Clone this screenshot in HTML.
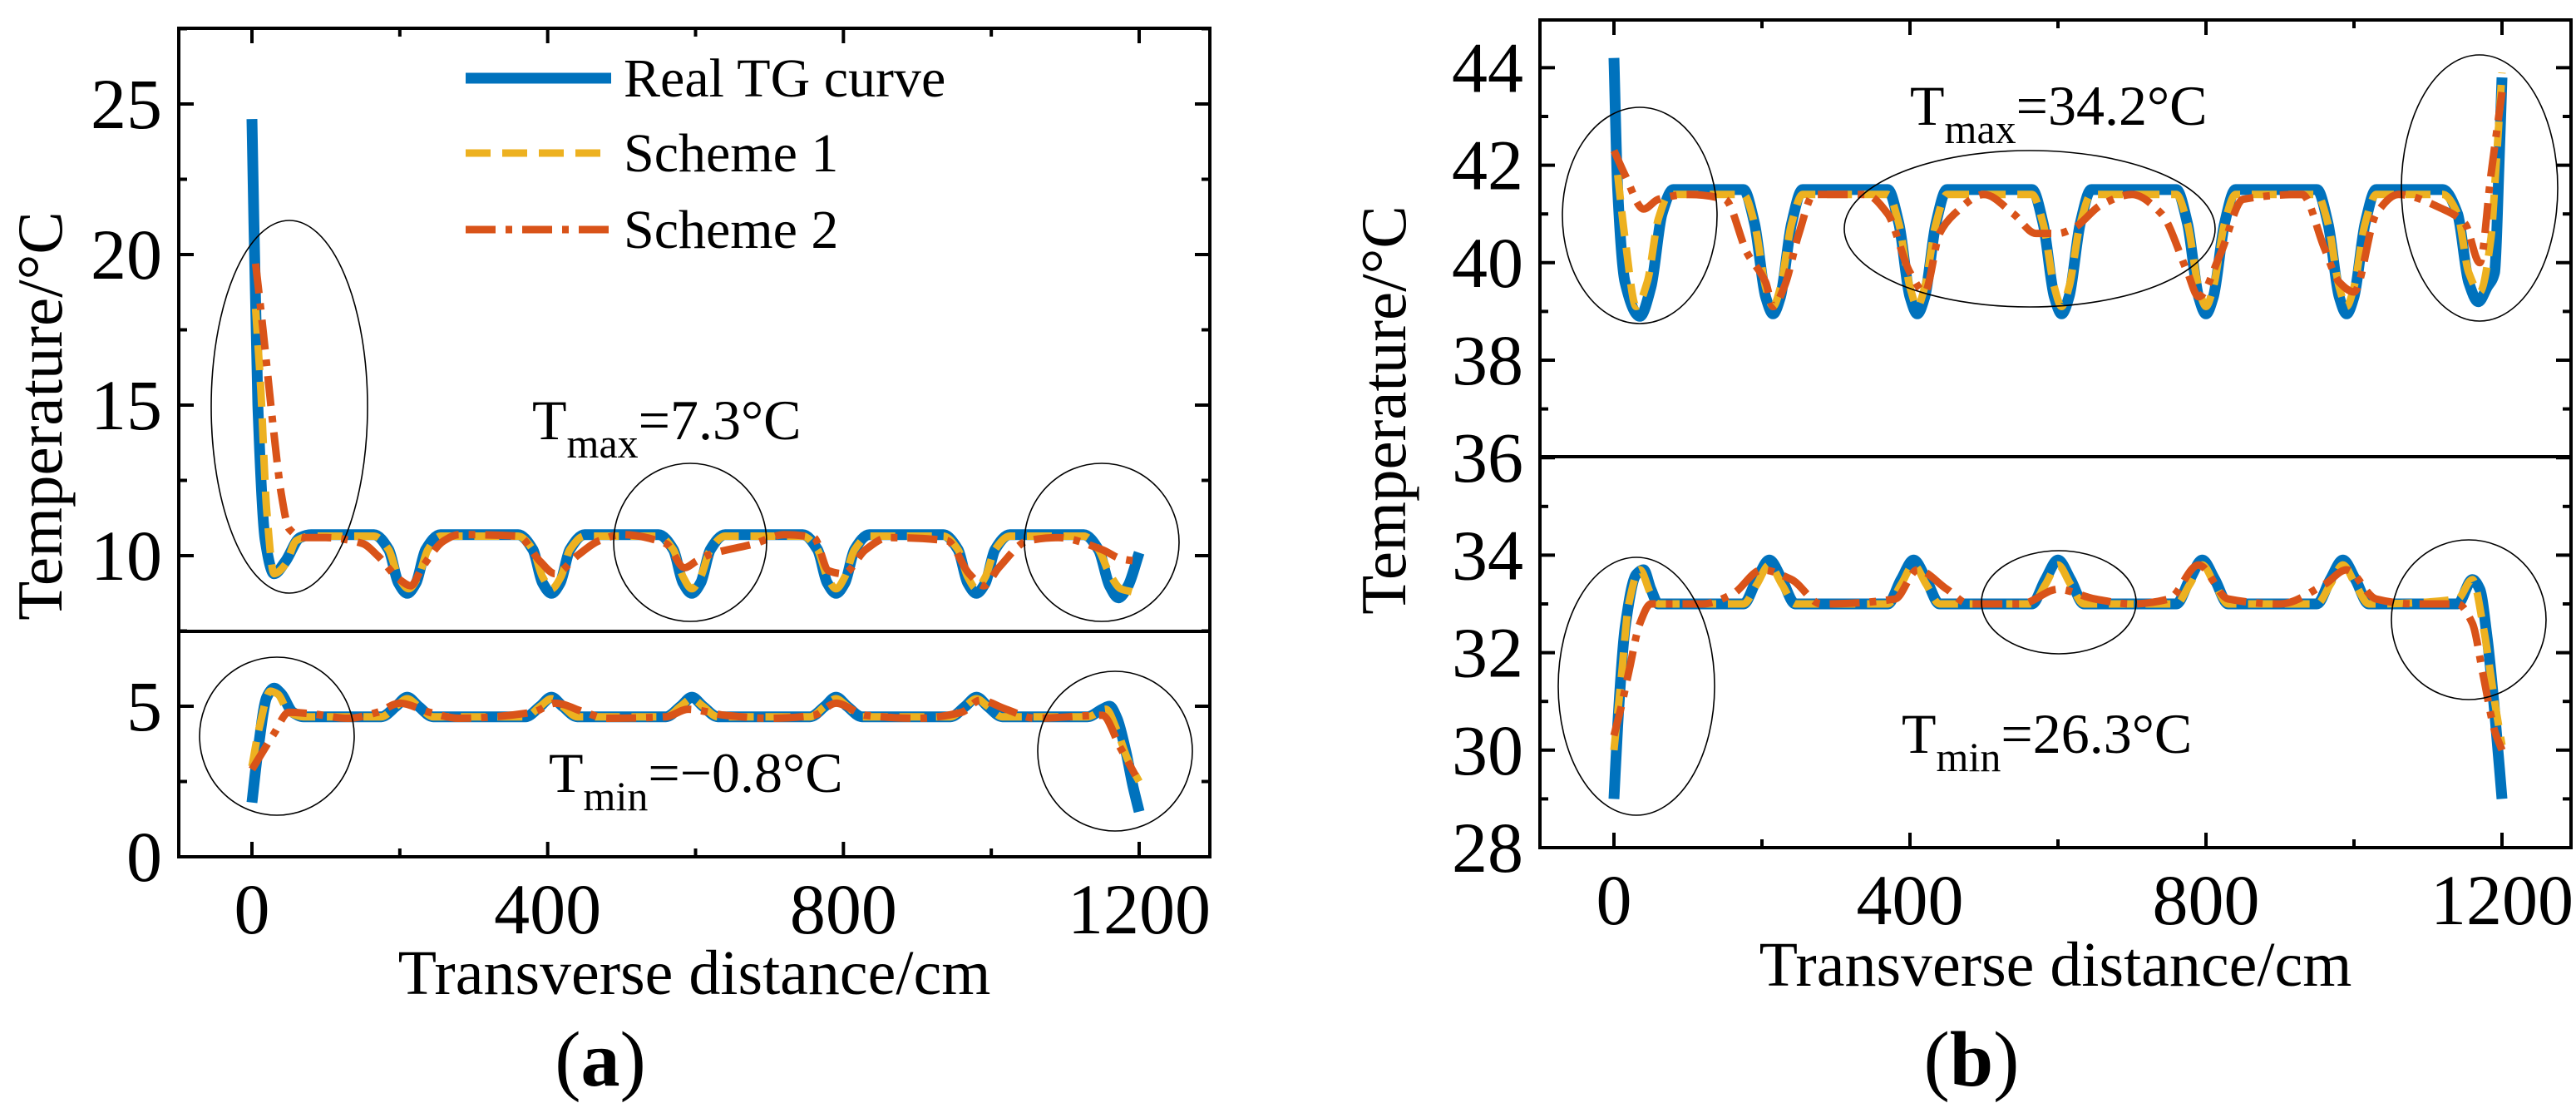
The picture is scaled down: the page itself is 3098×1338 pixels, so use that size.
<!DOCTYPE html>
<html><head><meta charset="utf-8">
<style>
html,body{margin:0;padding:0;background:#fff;}
svg{display:block;font-family:"Liberation Serif",serif;}
</style></head>
<body>
<svg id="chart" width="3098" height="1338" viewBox="0 0 3098 1338" xmlns="http://www.w3.org/2000/svg"></svg>
<script>
// ---------- data: panel (a) ----------
const aRealUpX = [0,8,18,30,45,65,80,165,185,198,210,222,235,255,360,380,393,405,417,430,450,550,570,583,595,607,620,640,745,765,778,790,802,815,835,935,955,968,980,992,1005,1025,1125,1145,1160,1172,1185,1200];
const aRealUpY = [24.5,15,10.5,9.4,9.8,10.6,10.7,10.7,10.2,9.1,8.75,9.1,10.2,10.7,10.7,10.2,9.1,8.75,9.1,10.2,10.7,10.7,10.2,9.1,8.75,9.1,10.2,10.7,10.7,10.2,9.1,8.75,9.1,10.2,10.7,10.7,10.2,9.1,8.75,9.1,10.2,10.7,10.7,10.2,9.0,8.6,9.0,10.1];
const aS1UpX = [5,12,20,30,45,60,80,165,185,198,212,225,238,255,360,380,393,405,418,430,450,550,570,583,595,607,620,640,745,765,778,790,802,815,835,935,955,968,980,992,1005,1025,1125,1145,1160,1175,1190];
const aS1UpY = [18.2,15.5,11.5,9.4,9.7,10.5,10.65,10.65,10.2,9.3,8.9,9.3,10.2,10.65,10.65,10.2,9.3,8.9,9.3,10.2,10.65,10.65,10.2,9.3,8.9,9.3,10.2,10.65,10.65,10.2,9.3,8.9,9.3,10.2,10.65,10.65,10.2,9.3,8.9,9.3,10.2,10.65,10.65,10.2,9.4,8.9,8.8];
const aS2UpX = [5,15,30,40,50,70,100,150,170,200,215,230,260,280,360,390,410,440,470,500,560,585,600,615,680,720,760,780,800,830,860,940,970,990,1010,1050,1090,1150,1175,1200];
const aS2UpY = [19.7,17.5,14,12,10.9,10.6,10.6,10.4,10.0,9.2,9.0,9.6,10.5,10.7,10.65,9.8,9.4,10.0,10.5,10.7,10.4,9.6,9.8,10.0,10.4,10.7,10.6,9.5,9.4,10.2,10.6,10.5,9.4,9.0,9.6,10.5,10.6,10.2,9.9,9.8];
const aRealLoX = [0,8,20,30,40,55,70,175,195,210,225,245,370,390,405,420,440,560,580,595,610,630,755,775,790,805,825,945,965,980,995,1015,1130,1150,1160,1170,1182,1192,1200];
const aRealLoY = [1.8,3.5,5.3,5.6,5.4,4.8,4.65,4.65,5.0,5.3,5.0,4.65,4.65,5.0,5.3,5.0,4.65,4.65,5.0,5.3,5.0,4.65,4.65,5.0,5.3,5.0,4.65,4.65,5.0,5.3,5.0,4.65,4.65,4.9,5.0,4.6,3.5,2.3,1.5];
const aS1LoX = [0,10,25,35,50,70,175,195,210,225,245,370,390,405,420,440,560,580,595,610,630,755,775,790,805,825,945,965,980,995,1015,1130,1155,1170,1185,1200];
const aS1LoY = [3.0,4.3,5.5,5.4,4.8,4.65,4.65,5.0,5.25,5.0,4.65,4.65,5.0,5.25,5.0,4.65,4.65,5.0,5.25,5.0,4.65,4.65,5.0,5.25,5.0,4.65,4.65,5.0,5.25,5.0,4.65,4.65,4.9,4.2,3.2,2.5];
const aS2LoX = [0,15,30,50,80,130,170,200,240,280,380,410,450,480,560,590,640,700,760,790,830,900,960,985,1020,1060,1150,1175,1195];
const aS2LoY = [2.9,3.5,4.1,4.8,4.75,4.6,4.8,5.1,4.8,4.6,4.8,5.1,4.8,4.6,4.65,4.9,4.7,4.6,4.7,5.1,4.7,4.6,4.8,5.2,4.9,4.6,4.7,3.6,2.7];
const aYTicks = [0,5,10,15,20,25];
// ---------- data: panel (b) ----------
const bRealUpX = [0,5,15,35,50,65,80,175,190,205,215,225,240,255,370,385,400,410,420,435,450,565,580,595,605,615,630,645,760,775,790,800,810,825,840,950,965,980,990,1000,1015,1030,1120,1140,1155,1168,1180,1190,1196,1200];
const bRealUpY = [44.2,41.5,39.6,38.9,39.5,41.0,41.5,41.5,40.8,39.3,38.95,39.3,40.8,41.5,41.5,40.8,39.3,38.95,39.3,40.8,41.5,41.5,40.8,39.3,38.95,39.3,40.8,41.5,41.5,40.8,39.3,38.95,39.3,40.8,41.5,41.5,40.8,39.3,38.95,39.3,40.8,41.5,41.5,41.0,39.6,39.2,39.5,39.8,42.0,43.8];
const bS1UpX = [5,15,30,45,60,75,175,190,205,215,225,240,255,370,385,400,410,420,435,450,565,580,595,605,615,630,645,760,775,790,800,810,825,840,950,965,980,990,1000,1015,1030,1120,1140,1155,1170,1185,1192,1200];
const bS1UpY = [41.8,40.5,39.1,39.6,40.9,41.4,41.4,40.8,39.5,39.1,39.5,40.8,41.4,41.4,40.8,39.5,39.1,39.5,40.8,41.4,41.4,40.8,39.5,39.1,39.5,40.8,41.4,41.4,40.8,39.5,39.1,39.5,40.8,41.4,41.4,40.8,39.5,39.1,39.5,40.8,41.4,41.4,41.0,39.8,39.4,40.5,42.0,43.9];
const bS2UpX = [0,15,40,60,100,150,180,205,215,230,250,270,340,370,400,420,440,460,500,540,570,600,620,660,700,740,775,790,820,850,930,960,980,1000,1030,1060,1120,1150,1170,1185,1200];
const bS2UpY = [42.3,41.8,41.1,41.3,41.4,41.3,40.2,39.6,39.1,39.5,40.6,41.4,41.4,41.0,39.8,39.4,40.6,41.0,41.4,41.0,40.6,40.6,40.7,41.2,41.4,41.0,39.8,39.3,40.2,41.3,41.4,40.3,39.6,39.4,41.0,41.4,41.1,40.8,40.0,41.8,43.5];
const bRealLoX = [0,5,15,30,40,50,60,175,193,210,227,245,370,388,405,422,440,565,583,600,617,635,760,778,795,812,830,950,968,985,1002,1020,1140,1160,1170,1180,1190,1200];
const bRealLoY = [29.0,30.5,32.5,33.6,33.7,33.3,33.0,33.0,33.5,33.9,33.5,33.0,33.0,33.5,33.9,33.5,33.0,33.0,33.5,33.9,33.5,33.0,33.0,33.5,33.9,33.5,33.0,33.0,33.5,33.9,33.5,33.0,33.0,33.5,33.3,32.3,30.8,29.0];
const bS1LoX = [0,10,20,35,50,60,175,193,210,227,245,370,388,405,422,440,565,583,600,617,635,760,778,795,812,830,950,968,985,1002,1020,1140,1160,1175,1190,1200];
const bS1LoY = [30.0,31.5,33.0,33.7,33.2,33.0,33.0,33.4,33.8,33.4,33.0,33.0,33.4,33.8,33.4,33.0,33.0,33.4,33.8,33.4,33.0,33.0,33.4,33.8,33.4,33.0,33.0,33.4,33.8,33.4,33.0,33.1,33.5,32.5,31.0,30.1];
const bS2LoX = [0,10,20,35,50,120,160,200,240,280,380,410,450,480,550,600,650,700,750,790,830,900,960,990,1030,1080,1140,1160,1175,1190,1200];
const bS2LoY = [30.3,30.9,31.6,32.6,33.0,33.0,33.2,33.7,33.5,33.0,33.1,33.7,33.3,33.0,33.0,33.3,33.1,33.0,33.1,33.8,33.1,33.0,33.4,33.7,33.1,33.0,33.0,32.6,31.5,30.4,30.0];
const bYTicks = [28,30,32,34,36,38,40,42,44];
const xTicks = [0,400,800,1200];
const seriesNames = ["Real TG curve","Scheme 1","Scheme 2"];

const NS = "http://www.w3.org/2000/svg";
const svg = document.getElementById('chart');
function mk(tag, attrs, parent){const e=document.createElementNS(NS,tag);for(const k in attrs)e.setAttribute(k,attrs[k]);(parent||svg).appendChild(e);return e;}
// monotone cubic (Fritsch-Carlson) in pixel space
function smoothPath(pts){
  const n=pts.length;
  const dx=[],m=[],t=new Array(n);
  for(let i=0;i<n-1;i++){dx[i]=pts[i+1][0]-pts[i][0]; m[i]=(pts[i+1][1]-pts[i][1])/(dx[i]||1e-6);}
  t[0]=m[0]; t[n-1]=m[n-2];
  for(let i=1;i<n-1;i++){
    if(m[i-1]*m[i]<=0) t[i]=0;
    else { const w1=2*dx[i]+dx[i-1], w2=dx[i]+2*dx[i-1]; t[i]=(w1+w2)/(w1/m[i-1]+w2/m[i]); }
  }
  let d=`M${pts[0][0].toFixed(1)},${pts[0][1].toFixed(1)}`;
  for(let i=0;i<n-1;i++){
    const h=dx[i]/3;
    d+=` C${(pts[i][0]+h).toFixed(1)},${(pts[i][1]+t[i]*h).toFixed(1)} ${(pts[i+1][0]-h).toFixed(1)},${(pts[i+1][1]-t[i+1]*h).toFixed(1)} ${pts[i+1][0].toFixed(1)},${pts[i+1][1].toFixed(1)}`;
  }
  return d;
}
const styles = [
  {stroke:"#0072BD", w:13, dash:null},
  {stroke:"#EDB120", w:9, dash:"30 14"},
  {stroke:"#D95319", w:9, dash:"36 12 8 12"}
];

function panel(cfg){
  const g = mk('g',{});
  
  
  const sx = v => cfg.x0 + v * (cfg.x1200 - cfg.x0) / 1200;
  const sy = v => cfg.yBase - (v - cfg.yMin) * cfg.ppu;
  const L=cfg.left,R=cfg.right,T=cfg.top,B=cfg.bottom;
  const clip = mk('clipPath',{id:cfg.name+'-clip'},g);
  mk('rect',{x:L,y:T,width:R-L,height:B-T},clip);
  const sg = mk('g',{'clip-path':`url(#${cfg.name}-clip)`},g);
  
  
  cfg.series.forEach((s)=>{
    const st = styles[s.k];
    const pts = s.x.map((xv,i)=>[sx(xv), sy(s.y[i])]);
    const p = mk('path',{d:smoothPath(pts),fill:'none',stroke:st.stroke,'stroke-width':st.w,'stroke-linecap':'butt','stroke-linejoin':'round'},sg);
    if(st.dash) p.setAttribute('stroke-dasharray',st.dash);
    
    
  });
  cfg.ellipses.forEach((e)=>{
    const el = mk('ellipse',{cx:e[0],cy:e[1],rx:e[2],ry:e[3],fill:'none',stroke:'#000','stroke-width':1.6},g);
    
    
  });
  const fr = mk('rect',{x:L,y:T,width:R-L,height:B-T,fill:'none',stroke:'#000','stroke-width':4},g);
  
  
  const dv = mk('line',{x1:L,x2:R,y1:cfg.divider,y2:cfg.divider,stroke:'#000','stroke-width':4},g);
  
  
  for(let v=0; v<=1200; v+=200){
    const X=sx(v), len = (v%400===0)?18:10;
    mk('line',{x1:X,x2:X,y1:B,y2:B-len,stroke:'#000','stroke-width':4},g);
    mk('line',{x1:X,x2:X,y1:T,y2:T+len,stroke:'#000','stroke-width':4},g);
  }
  xTicks.forEach(v=>{
    const t = mk('text',{x:sx(v),y:B+92,'font-size':86,'text-anchor':'middle'},g);
    t.textContent = v;
    
    
  });
  const step = cfg.yTicks[1]-cfg.yTicks[0];
  for(let v=cfg.yTicks[0]; sy(v)>=T-1; v+=step/2){
    const Y=sy(v); const q=(v-cfg.yTicks[0])/step; const major = Math.abs(q-Math.round(q))<1e-6;
    const len = major?18:10;
    mk('line',{x1:L,x2:L+len,y1:Y,y2:Y,stroke:'#000','stroke-width':4},g);
    mk('line',{x1:R,x2:R-len,y1:Y,y2:Y,stroke:'#000','stroke-width':4},g);
  }
  cfg.yTicks.forEach(v=>{
    const t = mk('text',{x:L-20,y:sy(v)+29,'font-size':86,'text-anchor':'end'},g);
    t.textContent = v;
    
    
  });
  const xt = mk('text',{x:(L+R)/2,y:cfg.xTitleY,'font-size':76,'text-anchor':'middle'},g);
  xt.textContent = 'Transverse distance/cm';
  
  
  const yt = mk('text',{x:0,y:0,'font-size':77,'text-anchor':'middle',transform:`translate(${cfg.yTitleX},${cfg.yTitleY}) rotate(-90)`},g);
  yt.textContent = 'Temperature/°C';
  
  
  const pl = mk('text',{x:cfg.subX,y:1305,'font-size':94,'text-anchor':'middle'},g);
  pl.innerHTML = `(<tspan font-weight="bold">${cfg.sub}</tspan>)`;
  
  
  cfg.notes.forEach(n=>{
    const t = mk('text',{x:n.x,y:n.y,'font-size':68},g);
    t.innerHTML = `T<tspan font-size="50" dy="22">${n.sub}</tspan><tspan dy="-22">${n.val}</tspan>`;
    
    
  });
  return g;
}

panel({name:'panel-a',left:215,right:1455,top:34,bottom:1030,divider:759,
  x0:303,x1200:1370,yBase:1030,yMin:0,ppu:36.2,yTicks:aYTicks,
  xTitleY:1195,yTitleX:74,yTitleY:500,subX:722,sub:'a',
  series:[
    {k:0,x:aRealUpX,y:aRealUpY,label:'real-curve-upper'},
    {k:0,x:aRealLoX,y:aRealLoY,label:'real-curve-lower'},
    {k:1,x:aS1UpX,y:aS1UpY,label:'scheme1-upper'},
    {k:1,x:aS1LoX,y:aS1LoY,label:'scheme1-lower'},
    {k:2,x:aS2UpX,y:aS2UpY,label:'scheme2-upper'},
    {k:2,x:aS2LoX,y:aS2LoY,label:'scheme2-lower'}],
  ellipses:[[348,489,94,224],[830,652,92,95],[1325,652,93,95],[333,885,93,95],[1341,903,93,96]],
  notes:[{x:640,y:528,sub:'max',val:'=7.3°C'},{x:660,y:952,sub:'min',val:'=−0.8°C'}]
});
panel({name:'panel-b',left:1852,right:3092,top:24,bottom:1019,divider:549,
  x0:1941,x1200:3009,yBase:1019,yMin:28,ppu:58.6,yTicks:bYTicks,
  xTitleY:1185,yTitleX:1690,yTitleY:493,subX:2371,sub:'b',
  series:[
    {k:0,x:bRealUpX,y:bRealUpY,label:'real-curve-upper'},
    {k:0,x:bRealLoX,y:bRealLoY,label:'real-curve-lower'},
    {k:1,x:bS1UpX,y:bS1UpY,label:'scheme1-upper'},
    {k:1,x:bS1LoX,y:bS1LoY,label:'scheme1-lower'},
    {k:2,x:bS2UpX,y:bS2UpY,label:'scheme2-upper'},
    {k:2,x:bS2LoX,y:bS2LoY,label:'scheme2-lower'}],
  ellipses:[[1972,259,93,130],[2441,275,223,94],[2982,226,94,160],[1968,825,94,155],[2476,724,93,62],[2969,745,93,96]],
  notes:[{x:2297,y:150,sub:'max',val:'=34.2°C'},{x:2287,y:905,sub:'min',val:'=26.3°C'}]
});

const lg = mk('g',{});


const legY = [94,184,276];
seriesNames.forEach((nm,i)=>{
  const st = styles[i];
  const ln = mk('line',{x1:560,x2:735,y1:legY[i],y2:legY[i],stroke:st.stroke,'stroke-width':st.w},lg);
  if(st.dash) ln.setAttribute('stroke-dasharray',st.dash);
  
  
  const t = mk('text',{x:750,y:legY[i]+22,'font-size':66},lg);
  t.textContent = nm;
  
  
});
</script>
</body></html>
